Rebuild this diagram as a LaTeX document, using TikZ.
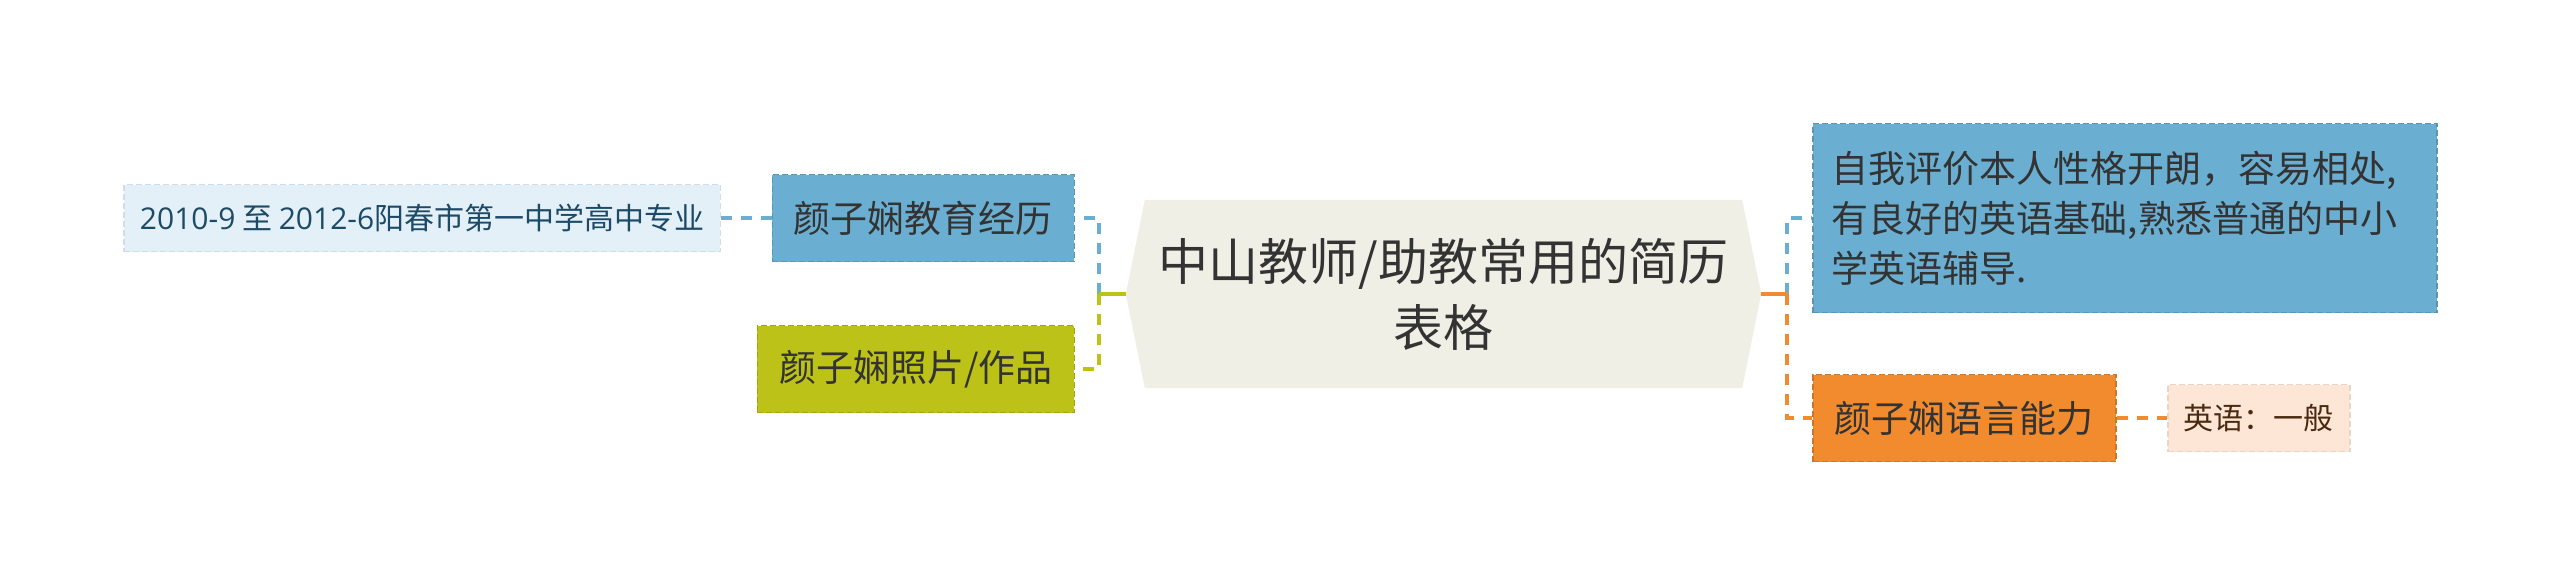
\documentclass[tikz,border=0pt]{standalone}
\usepackage{fontspec}
\setmainfont{Noto Sans CJK SC}
\newfontfamily\latinfont{Open Sans}
\usetikzlibrary{backgrounds}

\definecolor{rootfill}{HTML}{EFEFE6}
\definecolor{bluefill}{HTML}{6AAFD1}
\definecolor{greenfill}{HTML}{BCC218}
\definecolor{orangefill}{HTML}{F28B2D}
\definecolor{blueleaf}{HTML}{E3F0F8}
\definecolor{orangeleaf}{HTML}{FDE6D6}
\definecolor{textgray}{HTML}{333333}
\definecolor{bluetext}{HTML}{1D4A66}
\definecolor{browntext}{HTML}{4A2A10}

\tikzset{
  topic/.style={fill=#1, draw=#1!85!black, line width=1.5pt, dash pattern=on 6pt off 3pt,
    text=textgray, minimum height=87pt, inner xsep=19pt, font=\fontsize{37}{50}\selectfont},
  leaf/.style={fill=#1, draw=#1!92!black, line width=1.5pt, dash pattern=on 6pt off 3pt,
    minimum height=67pt, inner xsep=16pt, font=\fontsize{30}{36}\selectfont},
  stub/.style={draw=#1, line width=4pt},
  link/.style={draw=#1, line width=3.5pt, dash pattern=on 11pt off 9pt},
}

\begin{document}
\begin{tikzpicture}[x=1pt, y=-1pt]
\useasboundingbox (0,0) rectangle (2560,587);

% central topic
\node[minimum width=597pt, minimum height=188pt, text=textgray, align=center,
  font=\fontsize{50}{66}\selectfont] (root) at (1443.5,294) {中山教师/助教常用的简历\\表格};
\coordinate (rootW) at ([xshift=-19pt]root.west);
\coordinate (rootE) at ([xshift=19pt]root.east);
\begin{pgfonlayer}{background}
\fill[rootfill] (root.north west) -- (root.north east) -- (rootE) -- (root.south east)
  -- (root.south west) -- (rootW) -- cycle;
\end{pgfonlayer}

% left branch
\node[topic=bluefill, minimum width=302pt, anchor=east] (edu) at (1075,218) {颜子娴教育经历};
\node[topic=greenfill, minimum width=317pt, anchor=east] (photo) at (1075,369) {颜子娴照片/作品};
\node[leaf=blueleaf, text=bluetext, minimum width=594pt, anchor=east] (eduleaf) at (721,218)
  {{\latinfont 2010-9} 至 {\latinfont 2012-6}阳春市第一中学高中专业};

% right branch
\node[topic=bluefill, text width=586pt, minimum height=189pt, align=left, anchor=west] (self) at (1812,218)
  {自我评价本人性格开朗，容易相处,\\有良好的英语基础,熟悉普通的中小\\学英语辅导.};
\node[topic=orangefill, minimum width=303pt, anchor=west] (lang) at (1812,418) {颜子娴语言能力};
\node[leaf=orangeleaf, text=browntext, minimum width=175pt, anchor=west] (langleaf) at (2167,418) {英语：一般};

\coordinate (lspine) at (1099,294);
\coordinate (rspine) at (1787,294);

% connectors
\draw[stub=bluefill] (rootW) -- (lspine);
\draw[link=bluefill] (lspine) |- (edu.east);
\draw[stub=greenfill] (rootW) -- (lspine);
\draw[link=greenfill] (lspine) |- (photo.east);
\draw[link=bluefill] (edu.west) -- (eduleaf.east);

\draw[stub=bluefill] (rootE) -- (rspine);
\draw[link=bluefill] (rspine) |- (self.west);
\draw[stub=orangefill] (rootE) -- (rspine);
\draw[link=orangefill] (rspine) |- (lang.west);
\draw[link=orangefill] (lang.east) -- (langleaf.west);

\end{tikzpicture}
\end{document}
